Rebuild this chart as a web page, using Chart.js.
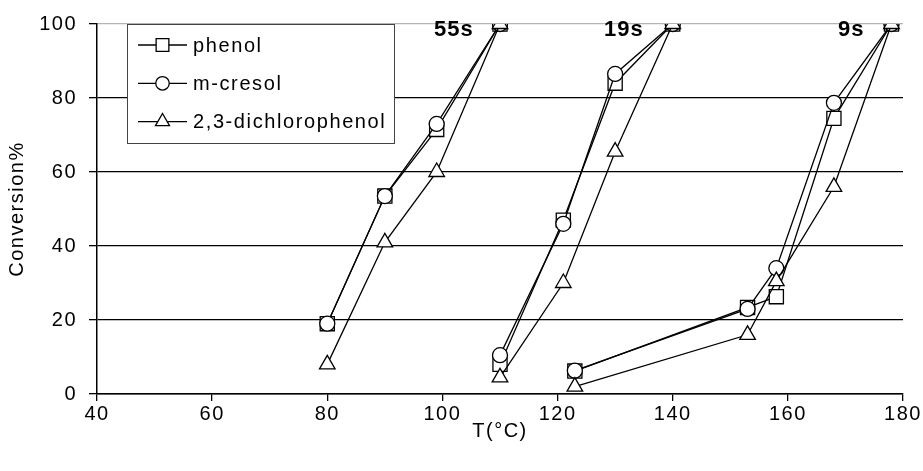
<!DOCTYPE html>
<html>
<head>
<meta charset="utf-8">
<script src="https://cdn.jsdelivr.net/npm/chart.js@4.4.1/dist/chart.umd.min.js"></script>
<style>
  html, body { margin: 0; padding: 0; background: #fff; }
</style>
</head>
<body>
<canvas id="myChart" width="923" height="471"></canvas>
<script>
// temperatures (°C) for each residence time
const temps55 = [80, 90, 99, 110];
const temps19 = [110, 121, 130, 140];
const temps9 = [123, 153, 158, 168, 178];

// conversion % per compound and residence time
const phenol55 = [19, 53.5, 71.5, 100];
const cresol55 = [19, 53.5, 73, 100];
const dcp55 = [8, 41, 60, 100];

const phenol19 = [8, 47, 84, 100];
const cresol19 = [10.5, 46, 86.5, 100];
const dcp19 = [4.5, 30, 65.5, 100];

const phenol9 = [6.2, 23.4, 26.3, 74.5, 100];
const cresol9 = [6.3, 23, 34, 78.7, 100];
const dcp9 = [2, 16, 30.5, 56, 100];

const compounds = ['phenol', 'm-cresol', '2,3-dichlorophenol'];
const timeLabels = ['55s', '19s', '9s'];
const xTicks = [40, 60, 80, 100, 120, 140, 160, 180];
const yTicks = [0, 20, 40, 60, 80, 100];

const FONT = "'Liberation Sans', Arial, sans-serif";

// joins the three residence-time runs into one series, with a gap between runs
function buildSeries(runs) {
    const pts = [];
    runs.forEach(function(run, r) {
        if (r > 0) pts.push({ x: run.temps[0], y: null });
        run.temps.forEach(function(t, i) {
            pts.push({ x: t, y: run.values[i] });
        });
    });
    return pts;
}

const markers = [
    { style: 'rect', radius: 10 },
    { style: 'circle', radius: 7.5 },
    { style: 'triangle', radius: 9 }
];

const seriesData = [
    buildSeries([{ temps: temps55, values: phenol55 }, { temps: temps19, values: phenol19 }, { temps: temps9, values: phenol9 }]),
    buildSeries([{ temps: temps55, values: cresol55 }, { temps: temps19, values: cresol19 }, { temps: temps9, values: cresol9 }]),
    buildSeries([{ temps: temps55, values: dcp55 }, { temps: temps19, values: dcp19 }, { temps: temps9, values: dcp9 }])
];

const datasets = compounds.map(function(name, i) {
    return {
        label: name,
        data: seriesData[i],
        order: compounds.length - 1 - i, // later compounds drawn on top
        showLine: true,
        spanGaps: false,
        borderColor: '#000',
        borderWidth: 1.3,
        backgroundColor: '#fff',
        pointStyle: markers[i].style,
        pointRadius: markers[i].radius,
        pointHoverRadius: markers[i].radius,
        pointBackgroundColor: '#fff',
        pointBorderColor: '#000',
        pointBorderWidth: 1.3
    };
});

// letter spacing on the canvas so the axis text is spread out a little
const spacingPlugin = {
    id: 'spacing',
    beforeLayout(chart) { chart.ctx.letterSpacing = '1.5px'; },
    beforeDraw(chart) { chart.ctx.letterSpacing = '1.5px'; }
};

// boxed legend with a line through each marker
const boxLegend = {
    id: 'boxLegend',
    afterDatasetsDraw(chart) {
        const ctx = chart.ctx;
        const left = 127, top = 24, w = 267, h = 119;
        ctx.save();
        ctx.fillStyle = '#fff';
        ctx.fillRect(left, top, w, h);
        ctx.strokeStyle = '#444';
        ctx.lineWidth = 1;
        ctx.strokeRect(left + 0.5, top + 0.5, w, h);
        chart.data.datasets.forEach(function(ds, i) {
            const y = 45 + i * 38.3;
            ctx.strokeStyle = '#000';
            ctx.lineWidth = 1.3;
            ctx.beginPath();
            ctx.moveTo(138, y);
            ctx.lineTo(187, y);
            ctx.stroke();
            ctx.fillStyle = '#fff';
            Chart.helpers.drawPoint(ctx, {
                pointStyle: ds.pointStyle,
                radius: ds.pointRadius * 0.9,
                rotation: 0,
                borderWidth: 1.3
            }, 162.5, y);
            ctx.fillStyle = '#000';
            ctx.font = '20px ' + FONT;
            ctx.letterSpacing = '1.6px';
            ctx.textAlign = 'left';
            ctx.textBaseline = 'middle';
            ctx.fillText(ds.label, 193, y + 1);
        });
        ctx.restore();
    }
};

// residence time labels above each group of curves
const timeTags = {
    id: 'timeTags',
    afterDatasetsDraw(chart) {
        const ctx = chart.ctx;
        const xs = chart.scales.x, ys = chart.scales.y;
        const tagX = [102, 131.5, 171];
        ctx.save();
        ctx.fillStyle = '#000';
        ctx.font = 'bold 22px ' + FONT;
        ctx.letterSpacing = '1px';
        ctx.textAlign = 'center';
        ctx.textBaseline = 'middle';
        timeLabels.forEach(function(t, i) {
            ctx.fillText(t, xs.getPixelForValue(tagX[i]), ys.getPixelForValue(98.4));
        });
        ctx.restore();
    }
};

const ctx = document.getElementById('myChart').getContext('2d');
new Chart(ctx, {
    type: 'scatter',
    data: { datasets: datasets },
    plugins: [spacingPlugin, boxLegend, timeTags],
    options: {
        responsive: false,
        animation: false,
        events: [],
        layout: { padding: { left: 0, top: 24, right: 20, bottom: 0 } },
        plugins: {
            legend: { display: false },
            tooltip: { enabled: false }
        },
        scales: {
            x: {
                type: 'linear',
                min: 40,
                max: 180,
                afterBuildTicks: function(scale) { scale.ticks = xTicks.map(function(v) { return { value: v }; }); },
                afterFit: function(scale) { scale.height = 77; },
                grid: { drawOnChartArea: false, color: '#000', tickColor: '#000', tickLength: 7, lineWidth: 1.3 },
                border: { color: '#000', width: 1.5 },
                ticks: { color: '#000', padding: 1, font: { family: FONT, size: 20 }, maxRotation: 0 },
                title: { display: true, text: 'T(°C)', color: '#000', font: { family: FONT, size: 20 }, padding: { top: 0, bottom: 28 } }
            },
            y: {
                min: 0,
                max: 100,
                afterBuildTicks: function(scale) { scale.ticks = yTicks.map(function(v) { return { value: v }; }); },
                afterFit: function(scale) { scale.width = 97; },
                grid: {
                    color: function(c) { return c.tick && c.tick.value === 100 ? '#b4b4b4' : '#000'; },
                    tickColor: '#000',
                    tickLength: 8,
                    lineWidth: 1.3
                },
                border: { color: '#000', width: 1.5 },
                ticks: { color: '#000', padding: 12, font: { family: FONT, size: 20 } },
                title: { display: true, text: 'Conversion%', color: '#000', font: { family: FONT, size: 20 }, padding: { top: 5, bottom: 0 } }
            }
        }
    }
});
</script>
</body>
</html>
